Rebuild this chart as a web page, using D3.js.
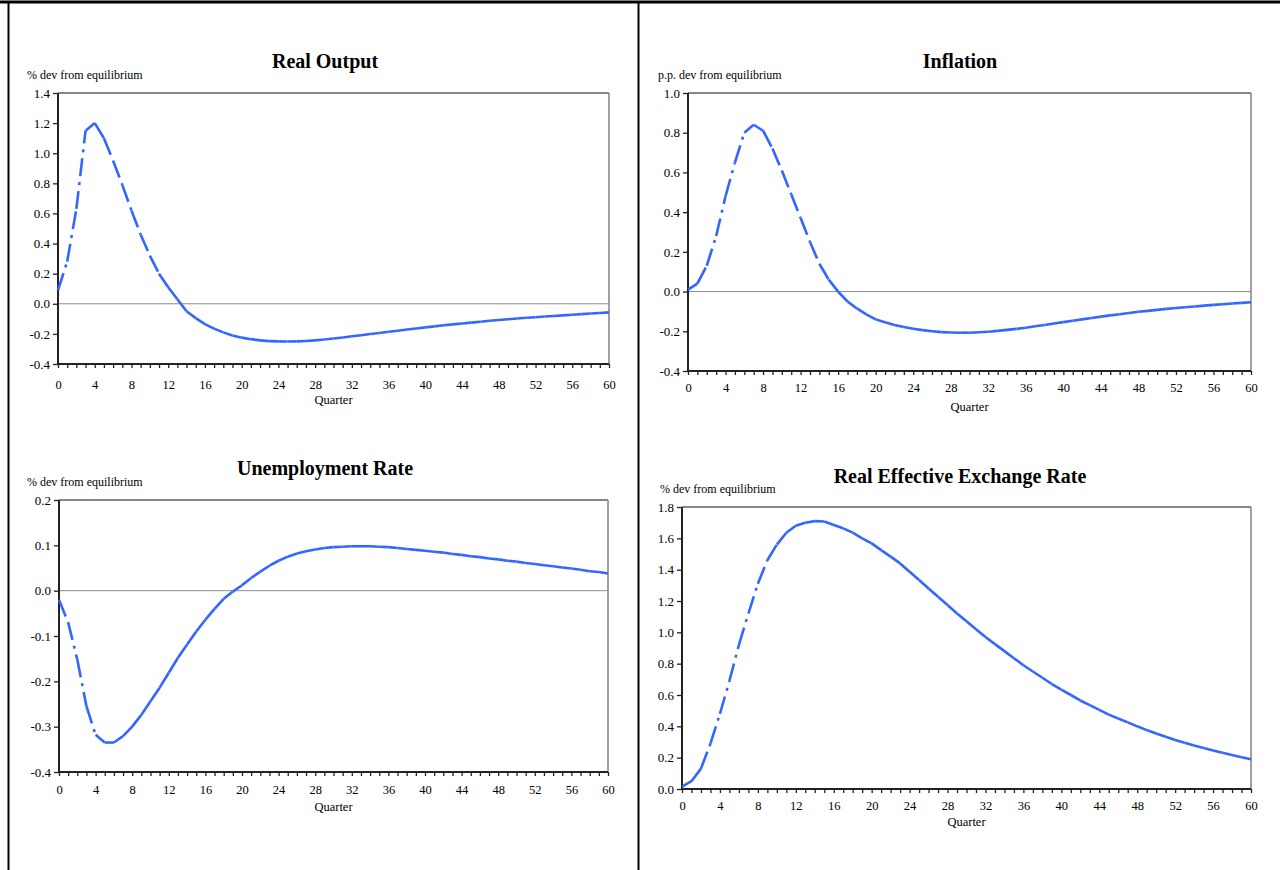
<!DOCTYPE html>
<html lang="en">
<head>
	<meta charset="UTF-8">
	<script type="text/javascript" src="https://cdn.jsdelivr.net/npm/d3@7"></script>
	<title>impulse responses</title>
	<style>
		body { margin: 0; background: #fff; }
		svg { display: block; font-family: "Liberation Serif", "Times New Roman", serif; }
	</style>
</head>
<body>
<svg id="chart" width="1280" height="870"></svg>

<script type="text/javascript">
	// values, one per quarter 0..60
	var realOutput = [0.09, 0.28, 0.63, 1.15, 1.20, 1.10, 0.95, 0.79, 0.62, 0.46,
		0.32, 0.20, 0.11, 0.03, -0.05, -0.095, -0.135, -0.165, -0.19, -0.21,
		-0.225, -0.235, -0.243, -0.248, -0.25, -0.251, -0.25, -0.247, -0.243, -0.237,
		-0.231, -0.224, -0.216, -0.209, -0.201, -0.194, -0.186, -0.179, -0.171, -0.164,
		-0.157, -0.15, -0.143, -0.137, -0.131, -0.125, -0.119, -0.113, -0.108, -0.103,
		-0.098, -0.093, -0.089, -0.085, -0.081, -0.077, -0.073, -0.069, -0.065, -0.061, -0.057];

	var inflation = [0.01, 0.04, 0.13, 0.28, 0.48, 0.65, 0.80, 0.84, 0.81, 0.72,
		0.61, 0.49, 0.37, 0.25, 0.14, 0.06, 0.0, -0.05, -0.085, -0.115,
		-0.14, -0.155, -0.168, -0.178, -0.187, -0.194, -0.2, -0.204, -0.206, -0.207,
		-0.207, -0.205, -0.202, -0.198, -0.193, -0.188, -0.182, -0.175, -0.168, -0.161,
		-0.154, -0.147, -0.14, -0.133, -0.126, -0.12, -0.114, -0.108, -0.102, -0.097,
		-0.092, -0.087, -0.083, -0.079, -0.075, -0.071, -0.067, -0.064, -0.06, -0.057, -0.054];

	var unemployment = [-0.02, -0.07, -0.152, -0.255, -0.318, -0.335, -0.335, -0.321, -0.3, -0.274,
		-0.244, -0.214, -0.181, -0.148, -0.119, -0.09, -0.064, -0.04, -0.018, -0.002,
		0.012, 0.028, 0.042, 0.055, 0.066, 0.075, 0.082, 0.087, 0.091, 0.094,
		0.096, 0.097, 0.098, 0.098, 0.098, 0.097, 0.096, 0.094, 0.092, 0.09,
		0.088, 0.086, 0.084, 0.081, 0.079, 0.076, 0.074, 0.071, 0.069, 0.066,
		0.064, 0.061, 0.059, 0.056, 0.054, 0.051, 0.049, 0.046, 0.043, 0.041, 0.038];

	var reer = [0.015, 0.05, 0.13, 0.29, 0.48, 0.69, 0.92, 1.12, 1.31, 1.46,
		1.56, 1.636, 1.68, 1.70, 1.71, 1.707, 1.685, 1.664, 1.636, 1.60,
		1.568, 1.525, 1.483, 1.44, 1.387, 1.334, 1.28, 1.227, 1.174, 1.12,
		1.07, 1.02, 0.97, 0.925, 0.88, 0.835, 0.79, 0.75, 0.71, 0.67,
		0.635, 0.60, 0.565, 0.535, 0.505, 0.475, 0.45, 0.425, 0.40, 0.376,
		0.354, 0.333, 0.313, 0.295, 0.278, 0.262, 0.246, 0.231, 0.217, 0.203, 0.19];

	var quarterTicks = [0, 4, 8, 12, 16, 20, 24, 28, 32, 36, 40, 44, 48, 52, 56, 60];
	var ticksOutput = [-0.4, -0.2, 0.0, 0.2, 0.4, 0.6, 0.8, 1.0, 1.2, 1.4];
	var ticksInflation = [-0.4, -0.2, 0.0, 0.2, 0.4, 0.6, 0.8, 1.0];
	var ticksUnemp = [-0.4, -0.3, -0.2, -0.1, 0.0, 0.1, 0.2];
	var ticksReer = [0.0, 0.2, 0.4, 0.6, 0.8, 1.0, 1.2, 1.4, 1.6, 1.8];

	var svg = d3.select("#chart");

	// outer frame of the page
	svg.append("line").attr("x1", 0).attr("x2", 1280).attr("y1", 2).attr("y2", 2)
		.attr("stroke", "#000").attr("stroke-width", 3);
	[8.5, 638.5].forEach(function(x) {
		svg.append("line").attr("x1", x).attr("x2", x).attr("y1", 1).attr("y2", 870)
			.attr("stroke", "#000").attr("stroke-width", 2);
	});

	var panels = [
		{ title: "Real Output", tx: 325, ty: 68, ylab: "% dev from equilibrium", lx: 27, ly: 79,
			left: 58, right: 609, top: 93, bottom: 364, ticks: ticksOutput, data: realOutput, xlabY: 390, qY: 404 },
		{ title: "Inflation", tx: 960, ty: 68, ylab: "p.p. dev from equilibrium", lx: 658, ly: 79,
			left: 688, right: 1251, top: 93, bottom: 371, ticks: ticksInflation, data: inflation, xlabY: 393, qY: 411 },
		{ title: "Unemployment Rate", tx: 325, ty: 475, ylab: "% dev from equilibrium", lx: 27, ly: 486,
			left: 59, right: 608, top: 500, bottom: 772, ticks: ticksUnemp, data: unemployment, xlabY: 795, qY: 811 },
		{ title: "Real Effective Exchange Rate", tx: 960, ty: 483, ylab: "% dev from equilibrium", lx: 660, ly: 493,
			left: 682, right: 1251, top: 507, bottom: 789, ticks: ticksReer, data: reer, xlabY: 811, qY: 826 }
	];

	panels.forEach(function(p) {
		var g = svg.append("g");
		var x = d3.scaleLinear().domain([0, 60]).range([p.left, p.right]);
		var y = d3.scaleLinear().domain([p.ticks[0], p.ticks[p.ticks.length - 1]]).range([p.bottom, p.top]);

		g.append("text").attr("x", p.tx).attr("y", p.ty).attr("text-anchor", "middle")
			.style("font-size", "20px").style("font-weight", "bold").text(p.title);
		g.append("text").attr("x", p.lx).attr("y", p.ly)
			.style("font-size", "12px").text(p.ylab);

		// plot frame: top + right
		g.append("line").attr("x1", p.left).attr("x2", p.right).attr("y1", p.top).attr("y2", p.top)
			.attr("stroke", "#111").attr("stroke-width", 1.2);
		g.append("line").attr("x1", p.right).attr("x2", p.right).attr("y1", p.top).attr("y2", p.bottom)
			.attr("stroke", "#808080").attr("stroke-width", 1.5);

		// zero line
		if (p.ticks[0] < 0) {
			g.append("line").attr("x1", p.left).attr("x2", p.right).attr("y1", y(0)).attr("y2", y(0))
				.attr("stroke", "#8c8c8c").attr("stroke-width", 1);
		}

		// y axis
		var ya = g.append("g").attr("transform", "translate(" + p.left + ",0)")
			.call(d3.axisLeft(y).tickValues(p.ticks).tickSize(5).tickPadding(3)
				.tickFormat(function(d) { return d.toFixed(1); }));
		// x axis, one tick per quarter
		var xa = g.append("g").attr("transform", "translate(0," + p.bottom + ")")
			.call(d3.axisBottom(x).tickValues(d3.range(0, 61)).tickSize(4).tickPadding(p.xlabY - p.bottom - 14)
				.tickFormat(function(d) { return quarterTicks.indexOf(d) >= 0 ? d : ""; }));
		[ya, xa].forEach(function(a) {
			a.select(".domain").attr("stroke", "#222").attr("stroke-width", 2);
			a.selectAll(".tick line").attr("stroke", "#222").attr("stroke-width", 1.3);
			a.selectAll("text").style("font-family", "\"Liberation Serif\", serif").attr("fill", "#000");
		});
		ya.selectAll("text").style("font-size", "13px");
		xa.selectAll("text").style("font-size", "12.5px");
		ya.select(".domain").attr("d", "M0," + p.bottom + "V" + p.top);
		xa.select(".domain").attr("d", "M" + p.left + ",0H" + p.right);

		g.append("text").attr("x", (p.left + p.right) / 2).attr("y", p.qY).attr("text-anchor", "middle")
			.style("font-size", "12.5px").text("Quarter");

		// series, each quarter step drawn on its own so the dash restarts
		var segs = d3.pairs(p.data.map(function(v, i) { return [i, v]; }));
		g.append("g").selectAll("line").data(segs).enter().append("line")
			.attr("x1", function(d) { return x(d[0][0]); })
			.attr("y1", function(d) { return y(d[0][1]); })
			.attr("x2", function(d) { return x(d[1][0]); })
			.attr("y2", function(d) { return y(d[1][1]); })
			.attr("stroke", "#3366ff")
			.attr("stroke-width", 2.6)
			.attr("stroke-linecap", "butt")
			.attr("stroke-dasharray", "18,6,3,6");
	});
</script>
</body>
</html>
